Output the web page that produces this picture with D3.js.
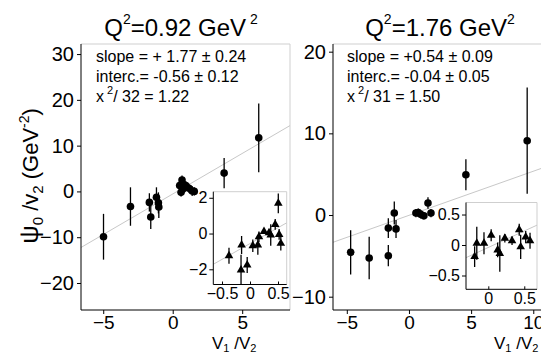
<!DOCTYPE html>
<html>
<head>
<meta charset="utf-8">
<script src="https://cdn.jsdelivr.net/npm/d3@7"></script>
<style>
  body { margin: 0; background: #fff; }
  svg text { font-family: "Liberation Sans", Arial, Helvetica, sans-serif; fill: #000; }
  .frame { stroke: #cfcfcf; fill: none; stroke-width: 1; }
  .fit { stroke: #c8c8c8; stroke-width: 1; }
  .err { stroke: #000; stroke-width: 1.3; }
  .axis path, .axis line { stroke: #000; stroke-width: 1; }
</style>
</head>
<body>
<div id="chart"></div>
<script>
// ---- data ----
// Q2 = 0.92 GeV2, main plot (circles)
var q1X   = [-4.98, -3.04, -1.68, -1.58, -1.17, -1.03, -1.0, 0.5, 0.6, 0.67, 0.72, 0.94, 1.17, 1.4, 1.55, 3.7, 6.19];
var q1Y   = [-9.9, -3.3, -2.4, -5.6, -1.3, -2.5, -3.4, 1.3, -0.2, 2.5, 0.5, 1.3, 0.7, 0.1, 0.0, 4.0, 11.7];
var q1Err = [5.0, 4.2, 2.0, 2.6, 2.2, 2.3, 2.4, 1.0, 0.9, 1.0, 0.9, 1.0, 1.0, 1.1, 0.9, 3.3, 7.5];
// Q2 = 0.92 GeV2, inset (triangles)
var q1InX   = [-0.375, -0.16, -0.15, -0.05, 0.05, 0.14, 0.16, 0.25, 0.34, 0.37, 0.45, 0.505, 0.52, 0.55];
var q1InY   = [-1.24, -2.04, -0.64, -1.76, -0.68, -0.64, -0.18, 0.12, 0.05, -0.08, 0.51, 1.69, -0.05, -0.55];
var q1InErr = [0.45, 0.85, 0.5, 0.45, 0.35, 0.55, 0.3, 0.15, 0.15, 0.6, 0.3, 0.55, 0.3, 0.4];

// Q2 = 1.76 GeV2, main plot (circles)
var q2X   = [-4.69, -3.2, -1.66, -1.66, -1.18, -1.04, 0.56, 0.75, 0.94, 1.2, 1.53, 1.77, 4.58, 9.51];
var q2Y   = [-4.57, -5.26, -1.6, -4.98, 0.24, -1.7, 0.24, 0.3, 0.08, -0.1, 1.47, 0.24, 4.93, 9.1];
var q2Err = [2.7, 2.6, 1.2, 1.3, 1.4, 1.1, 0.5, 0.5, 0.5, 0.4, 0.7, 0.5, 1.9, 6.5];
// Q2 = 1.76 GeV2, inset (triangles)
var q2InX   = [-0.19, -0.16, -0.06, 0.04, 0.13, 0.16, 0.23, 0.33, 0.43, 0.45, 0.52, 0.58];
var q2InY   = [-0.19, 0.03, 0.03, 0.16, -0.08, -0.14, 0.11, 0.07, 0.25, -0.03, 0.13, 0.07];
var q2InErr = [0.17, 0.27, 0.18, 0.1, 0.12, 0.3, 0.07, 0.07, 0.1, 0.2, 0.1, 0.13];

// fit results
var q2Values  = ["0.92", "1.76"];
var fitSlope  = [1.77, 0.54];
var fitInterc = [-0.56, -0.04];
var slopeText = ["slope = + 1.77 \u00b1 0.24", "slope = +0.54 \u00b1 0.09"];
var intText   = ["interc.= -0.56 \u00b1 0.12", "interc.= -0.04 \u00b1 0.05"];
var chiNdf    = ["32", "31"];
var chiText   = ["1.22", "1.50"];

// tick labels
var mainXTicks = [[-5, 0, 5], [-5, 0, 5, 10]];
var mainYTicks = [[-20, -10, 0, 10, 20, 30], [-10, 0, 10, 20]];
var insXTicks  = [[-0.5, 0, 0.5], [0, 0.5]];
var insYTicks  = [[-2, 0, 2], [-0.5, 0, 0.5]];

function zip(xs, ys, es) {
  return xs.map(function(d, i) { return {x: d, y: ys[i], e: es[i]}; });
}

// ---- layout ----
var width = 541, height = 355;
var panels = [
  { main: {left: 81, right: 290, top: 44, bottom: 310, xDom: [-6.6, 8.44], yDom: [-25.9, 32.2]},
    ins:  {left: 213.3, right: 286.7, top: 191.7, bottom: 284.5, xDom: [-0.655, 0.655], yDom: [-2.85, 2.34]},
    titleX: 181, textX: 96, labelX: 212 },
  { main: {left: 333, right: 560, top: 44, bottom: 310, xDom: [-6.11, 12.15], yDom: [-11.63, 20.94]},
    ins:  {left: 466, right: 537, top: 202.5, bottom: 289.3, xDom: [-0.31, 0.677], yDom: [-0.726, 0.697]},
    titleX: 440, textX: 347, labelX: 494 }
];

var svg = d3.select("#chart").append("svg")
  .attr("width", width)
  .attr("height", height);

var clipN = 0;

function drawPlot(g, o, pts, xt, yt, slope, interc, kind, fs, inset) {
  var x = d3.scaleLinear().domain(o.xDom).range([o.left, o.right]);
  var y = d3.scaleLinear().domain(o.yDom).range([o.bottom, o.top]);

  g.append("rect")
    .attr("x", o.left).attr("y", o.top)
    .attr("width", o.right - o.left).attr("height", o.bottom - o.top)
    .attr("fill", "#fff");
  g.append("path").attr("class", "frame")
    .attr("d", "M" + o.left + "," + o.top + "H" + o.right + "V" + o.bottom);

  var id = "clip" + (clipN++);
  g.append("clipPath").attr("id", id).append("rect")
    .attr("x", o.left).attr("y", o.top)
    .attr("width", o.right - o.left).attr("height", o.bottom - o.top);
  var inner = g.append("g").attr("clip-path", "url(#" + id + ")");

  // fit line
  inner.append("line").attr("class", "fit")
    .attr("x1", x(o.xDom[0])).attr("y1", y(slope * o.xDom[0] + interc))
    .attr("x2", x(o.xDom[1])).attr("y2", y(slope * o.xDom[1] + interc));

  inner.selectAll(".err").data(pts).join("line").attr("class", "err")
    .attr("x1", function(d) { return x(d.x); })
    .attr("x2", function(d) { return x(d.x); })
    .attr("y1", function(d) { return y(d.y - d.e); })
    .attr("y2", function(d) { return y(d.y + d.e); });

  if (kind == "circle") {
    inner.selectAll(".pt").data(pts).join("circle").attr("class", "pt")
      .attr("cx", function(d) { return x(d.x); })
      .attr("cy", function(d) { return y(d.y); })
      .attr("r", 3.8).attr("fill", "#000");
  } else {
    var tri = d3.symbol().type(d3.symbolTriangle).size(32);
    inner.selectAll(".pt").data(pts).join("path").attr("class", "pt")
      .attr("d", tri)
      .attr("transform", function(d) { return "translate(" + x(d.x) + "," + y(d.y) + ")"; })
      .attr("fill", "#000");
  }

  var ax = g.append("g").attr("class", "axis")
    .attr("transform", "translate(0," + o.bottom + ")")
    .call(d3.axisBottom(x).tickValues(xt).tickFormat(d3.format("")).tickSizeOuter(0)
      .tickSize(inset ? -3 : 4).tickPadding(inset ? 3 : 2));
  var ay = g.append("g").attr("class", "axis")
    .attr("transform", "translate(" + o.left + ",0)")
    .call(d3.axisLeft(y).tickValues(yt).tickFormat(d3.format("")).tickSizeOuter(0)
      .tickSize(4).tickPadding(inset ? 2 : 3));
  ax.attr("font-family", null).attr("font-size", inset ? fs : fs - 1);
  ay.attr("font-family", null).attr("font-size", fs);
  [ax, ay].forEach(function(a) {
    a.selectAll("text").style("fill", "#000");
  });
  // axis line only over the plot range
  ax.select(".domain").attr("d", "M" + o.left + ",0H" + o.right);
  ay.select(".domain").attr("d", "M0," + o.bottom + "V" + o.top);
}

var mainPts = [zip(q1X, q1Y, q1Err), zip(q2X, q2Y, q2Err)];
var insPts  = [zip(q1InX, q1InY, q1InErr), zip(q2InX, q2InY, q2InErr)];

panels.forEach(function(p, i) {
  var g = svg.append("g");
  drawPlot(g, p.main, mainPts[i], mainXTicks[i], mainYTicks[i], fitSlope[i], fitInterc[i], "circle", 20, false);
  drawPlot(g, p.ins, insPts[i], insXTicks[i], insYTicks[i], fitSlope[i], fitInterc[i], "tri", 16, true);

  // title Q^2 = ... GeV^2
  var t = g.append("text").attr("x", p.titleX).attr("y", 36)
    .attr("text-anchor", "middle").attr("font-size", 24);
  t.append("tspan").text("Q");
  t.append("tspan").attr("dy", -12).attr("font-size", 14).text("2");
  t.append("tspan").attr("dy", 12).text("=" + q2Values[i] + " GeV");
  t.append("tspan").attr("dy", -12).attr("font-size", 14).text(i == 0 ? " 2" : "2");

  // fit annotations
  var lines = [slopeText[i], intText[i]];
  lines.forEach(function(s, k) {
    g.append("text").attr("x", p.textX).attr("y", 62 + k * 20).attr("font-size", 16).text(s);
  });
  var c = g.append("text").attr("x", p.textX).attr("y", 102).attr("font-size", 16);
  c.append("tspan").text("x");
  c.append("tspan").attr("dy", -8).attr("font-size", 11).text(" 2");
  c.append("tspan").attr("dy", 8).text("/ " + chiNdf[i] + " = " + chiText[i]);

  // x axis label V1/V2
  var xl = g.append("text").attr("x", p.labelX).attr("y", 349).attr("font-size", 17);
  xl.append("tspan").text("V");
  xl.append("tspan").attr("dy", 3).attr("font-size", 11).text("1");
  xl.append("tspan").attr("dy", -3).text(" /V");
  xl.append("tspan").attr("dy", 3).attr("font-size", 11).text("2");
});

// y axis label
var yl = svg.append("text")
  .attr("transform", "translate(38,176) rotate(-90)")
  .attr("text-anchor", "middle").attr("font-size", 22);
yl.append("tspan").attr("font-size", 26).text("\u03c8");
yl.append("tspan").attr("dy", 5).attr("font-size", 15).text("0");
yl.append("tspan").attr("dy", -5).text(" /v");
yl.append("tspan").attr("dy", 5).attr("font-size", 15).text("2");
yl.append("tspan").attr("dy", -5).text("  (GeV");
yl.append("tspan").attr("dy", -9).attr("font-size", 14).text("-2");
yl.append("tspan").attr("dy", 9).text(")");
</script>
</body>
</html>
